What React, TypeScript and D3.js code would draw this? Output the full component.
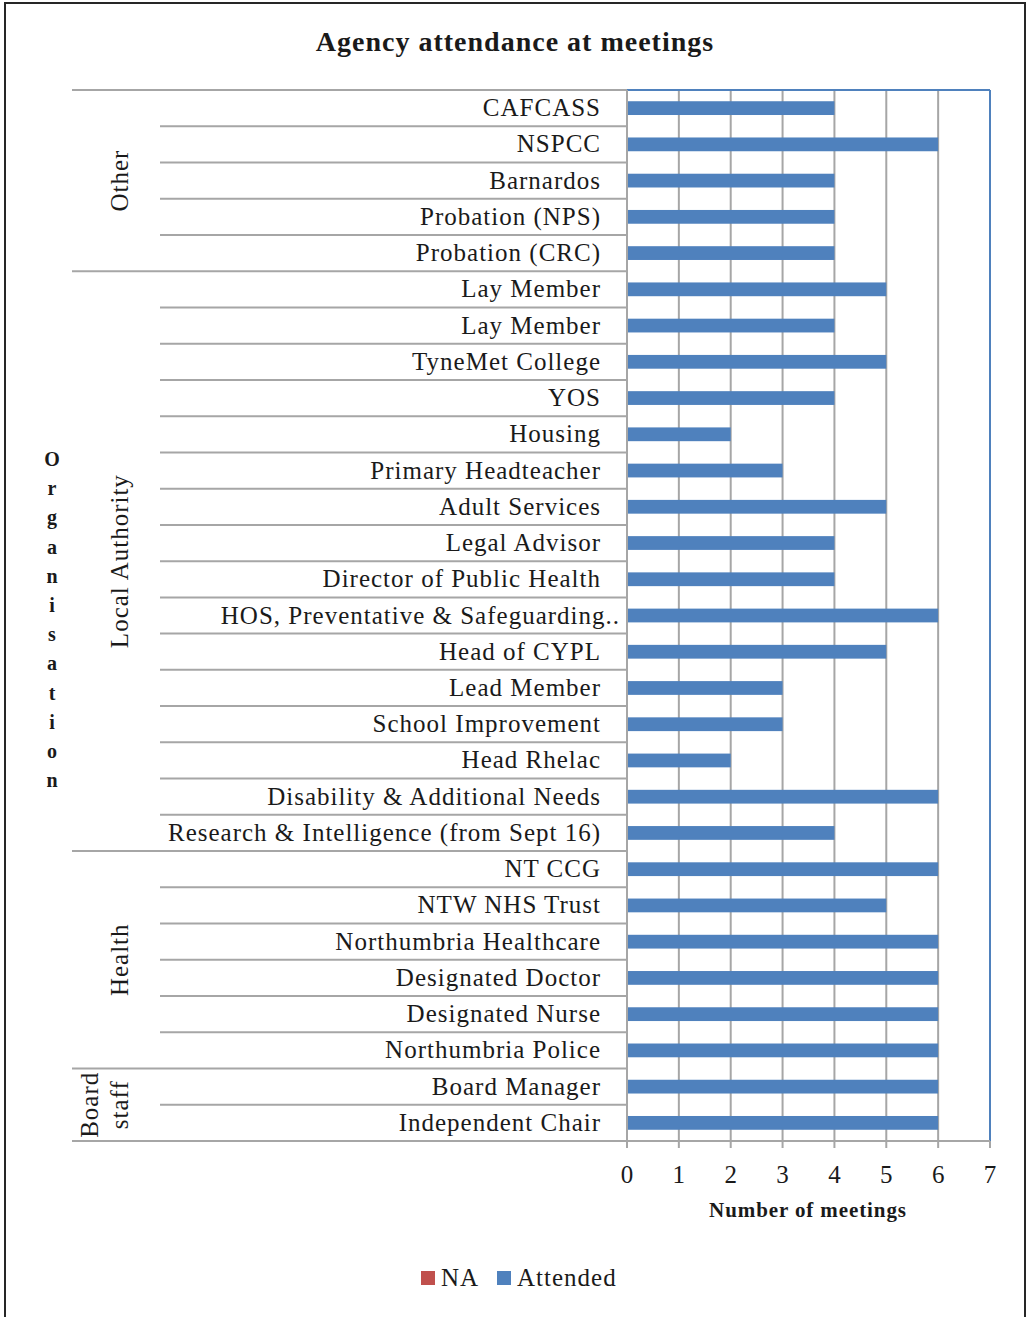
import React from "react";
import * as d3 from "d3";

const categories = [
  "CAFCASS", "NSPCC", "Barnardos", "Probation (NPS)", "Probation (CRC)",
  "Lay Member", "Lay Member", "TyneMet College", "YOS", "Housing",
  "Primary Headteacher", "Adult Services", "Legal Advisor", "Director of Public Health",
  "HOS, Preventative & Safeguarding..", "Head of CYPL", "Lead Member", "School Improvement",
  "Head Rhelac", "Disability & Additional Needs", "Research & Intelligence (from Sept 16)",
  "NT CCG", "NTW NHS Trust", "Northumbria Healthcare", "Designated Doctor",
  "Designated Nurse", "Northumbria Police", "Board Manager", "Independent Chair",
];
const attended = [4, 6, 4, 4, 4, 5, 4, 5, 4, 2, 3, 5, 4, 4, 6, 5, 3, 3, 2, 6, 4, 6, 5, 6, 6, 6, 6, 6, 6];
const na = [0, 0, 0, 0, 0, 0, 0, 0, 0, 0, 0, 0, 0, 0, 0, 0, 0, 0, 0, 0, 0, 0, 0, 0, 0, 0, 0, 0, 0];
const groups = [
  { name: ["Other"], count: 5 },
  { name: ["Local Authority"], count: 16 },
  { name: ["Health"], count: 6 },
  { name: ["Board", "staff"], count: 2 },
];
const xTicks = [0, 1, 2, 3, 4, 5, 6, 7];
const seriesNames = ["NA", "Attended"];
const seriesColors = ["#C0504D", "#4F81BD"];
const axisTitleLetters = "Organisation".split("");

const W = 1028;
const H = 1317;
const left = 627, right = 990, top = 90, bottom = 1141;
const font = "'Liberation Serif', 'DejaVu Serif', serif";
const txt = "#1a1a1a";

export default function App() {
  const x = d3.scaleLinear().domain([0, 7]).range([left, right]);
  const idx = categories.map((_, i) => i);
  const y = d3.scaleBand<number>().domain(idx).range([top, bottom]).paddingInner(0).paddingOuter(0);
  const bw = y.bandwidth();
  const barH = bw * 0.38;
  const stacked = idx.map((i) => ({ i, na: na[i], att: attended[i] }));

  let acc = 0;
  const groupPos = groups.map((g) => {
    const s = acc;
    acc += g.count;
    return { ...g, start: s, end: acc };
  });
  const boundaries = new Set(groupPos.map((g) => g.start));

  return (
    <svg width={W} height={H} style={{ position: "absolute", left: 0, top: 0, background: "#fff" }}>
      <rect x={5} y={3} width={1020} height={1330} fill="#fff" stroke="#262626" strokeWidth={2} />
      <text x={515} y={51} textAnchor="middle" fontFamily={font} fontWeight="bold" fontSize={28} letterSpacing={1} fill={txt}>
        Agency attendance at meetings
      </text>

      {/* gridlines */}
      {xTicks.slice(1, -1).map((t) => (
        <line key={"g" + t} x1={x(t)} x2={x(t)} y1={top} y2={bottom} stroke="#A6A6A6" strokeWidth={2} />
      ))}
      {/* plot border top & right */}
      <line x1={left} x2={right} y1={top} y2={top} stroke="#4F81BD" strokeWidth={2} />
      <line x1={right} x2={right} y1={top} y2={bottom} stroke="#4F81BD" strokeWidth={2} />

      {/* bars */}
      {stacked.map((d) => (
        <g key={"b" + d.i}>
          <rect x={x(0)} y={(y(d.i) as number) + bw / 2 - barH / 2} width={x(d.na) - x(0)} height={barH} fill={seriesColors[0]} />
          <rect x={x(d.na)} y={(y(d.i) as number) + bw / 2 - barH / 2} width={x(d.na + d.att) - x(d.na)} height={barH} fill={seriesColors[1]} />
        </g>
      ))}

      {/* axes */}
      <line x1={left} x2={left} y1={top} y2={bottom + 7} stroke="#A6A6A6" strokeWidth={2} />
      <line x1={left} x2={right} y1={bottom} y2={bottom} stroke="#A6A6A6" strokeWidth={2} />
      {xTicks.map((t) => (
        <g key={"t" + t}>
          <line x1={x(t)} x2={x(t)} y1={bottom} y2={bottom + 7} stroke="#A6A6A6" strokeWidth={2} />
          <text x={x(t)} y={1183} textAnchor="middle" fontFamily={font} fontSize={25} fill={txt}>{t}</text>
        </g>
      ))}
      <text x={808} y={1217} textAnchor="middle" fontFamily={font} fontWeight="bold" fontSize={21} letterSpacing={0.9} fill={txt}>
        Number of meetings
      </text>

      {/* category separators */}
      {idx.concat([categories.length]).map((i) => {
        const yy = i < categories.length ? (y(i) as number) : bottom;
        const isGroup = boundaries.has(i) || i === categories.length;
        return (
          <line key={"s" + i} x1={isGroup ? 72 : 160} x2={left} y1={yy} y2={yy} stroke="#A6A6A6" strokeWidth={2} />
        );
      })}

      {/* category labels */}
      {categories.map((c, i) => (
        <text key={"c" + i} x={c.endsWith("..") ? 620 : 601} y={(y(i) as number) + bw / 2 + 8} textAnchor="end" fontFamily={font} fontSize={25} letterSpacing={1} fill={txt}>
          {c}
        </text>
      ))}

      {/* group labels */}
      {groupPos.map((g, gi) => {
        const cy = ((y(g.start) as number) + (g.end < categories.length ? (y(g.end) as number) : bottom)) / 2;
        const n = g.name.length;
        return (
          <g key={"gl" + gi}>
            {g.name.map((line, li) => {
              const cx = 120 - (n - 1 - li) * 30;
              return (
                <text key={li} transform={`translate(${cx + 8},${cy}) rotate(-90)`} textAnchor="middle" fontFamily={font} fontSize={25} letterSpacing={1} fill={txt}>
                  {line}
                </text>
              );
            })}
          </g>
        );
      })}

      {/* axis title stacked letters */}
      {axisTitleLetters.map((ch, i) => (
        <text key={"a" + i} x={52} y={466 + i * 29.2} textAnchor="middle" fontFamily={font} fontWeight="bold" fontSize={20} fill={txt}>
          {ch}
        </text>
      ))}

      {/* legend */}
      {seriesNames.map((s, i) => {
        const lx = i === 0 ? 421 : 497;
        return (
          <g key={"l" + i}>
            <rect x={lx} y={1271} width={14} height={14} fill={seriesColors[i]} />
            <text x={lx + 20} y={1286} fontFamily={font} fontSize={25} letterSpacing={1} fill={txt}>{s}</text>
          </g>
        );
      })}
    </svg>
  );
}
